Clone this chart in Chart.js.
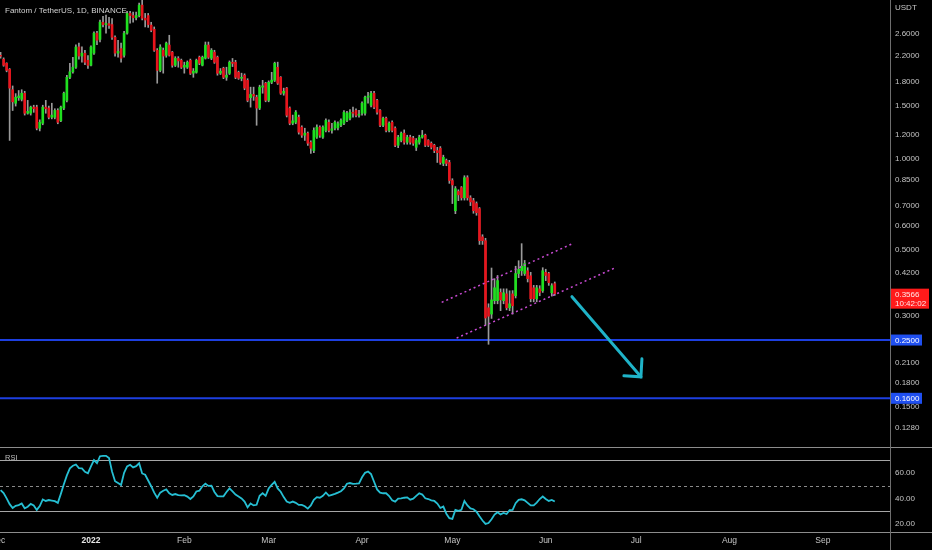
<!DOCTYPE html>
<html><head><meta charset="utf-8">
<script src="https://cdn.jsdelivr.net/npm/chart.js@4.4.1/dist/chart.umd.min.js"></script>
<style>
html,body{margin:0;padding:0;background:#000;overflow:hidden;}
#wrap{position:relative;width:932px;height:550px;background:#000;}
#price{position:absolute;left:0;top:0;}
#rsi{position:absolute;left:0;top:447px;}
</style></head><body>
<div id="wrap"><canvas id="price" width="932" height="447"></canvas><canvas id="rsi" width="932" height="103"></canvas></div>
<script>
// day index: 0 = 1 Dec 2021
const firstDay = 1;
const xMin = 0.8, xMax = 296.3;
const openP = [2.214,2.147,2.082,1.988,1.70,1.533,1.60,1.58,1.655,1.42,1.42,1.488,1.488,1.266,1.315,1.488,1.477,1.377,1.377,1.451,
1.34,1.477,1.567,1.87,1.95,2.02,2.36,2.20,2.248,2.13,2.05,2.25,2.622,2.50,2.85,2.80,2.82,2.80,2.54,2.25,
2.33,2.214,2.622,3.05,3.00,2.95,3.00,3.25,2.94,3.00,2.79,2.70,2.30,1.972,2.30,2.214,2.393,2.266,2.05,2.16,
2.13,2.02,2.02,2.13,1.93,1.943,2.18,2.05,2.164,2.393,2.164,2.266,2.18,1.93,2.004,1.87,1.928,2.098,2.098,1.943,
1.856,1.899,1.827,1.60,1.64,1.605,1.477,1.734,1.787,1.567,1.80,1.827,2.019,1.870,1.655,1.721,1.477,1.315,1.325,1.377,
1.276,1.20,1.219,1.137,1.067,1.182,1.276,1.182,1.245,1.325,1.245,1.266,1.27,1.295,1.315,1.344,1.367,1.431,1.451,1.398,
1.42,1.42,1.605,1.51,1.655,1.567,1.451,1.295,1.367,1.245,1.325,1.266,1.111,1.153,1.219,1.137,1.182,1.173,1.094,1.137,
1.182,1.20,1.153,1.128,1.111,1.067,1.086,0.967,0.989,0.974,0.848,0.673,0.78,0.803,0.743,0.867,0.743,0.727,0.711,0.684,
0.551,0.535,0.32,0.305,0.338,0.338,0.36,0.338,0.356,0.32,0.356,0.351,0.416,0.425,0.416,0.425,0.409,0.373,0.343,0.37,
0.3645,0.42,0.416,0.359,0.385];
const highP = [2.266,2.17,2.09,2.0,1.75,1.65,1.69,1.70,1.68,1.567,1.50,1.51,1.51,1.35,1.51,1.567,1.50,1.533,1.47,1.47,
1.50,1.67,1.90,2.08,2.18,2.40,2.43,2.36,2.30,2.21,2.38,2.65,2.66,2.90,2.98,3.01,2.96,2.93,2.57,2.48,
2.43,2.66,3.10,3.10,3.08,3.08,3.30,3.40,3.05,3.05,2.85,2.75,2.33,2.40,2.34,2.45,2.58,2.28,2.19,2.19,
2.15,2.10,2.12,2.15,2.00,2.15,2.20,2.20,2.45,2.45,2.33,2.30,2.20,2.00,2.02,2.02,2.12,2.16,2.13,1.96,
1.93,1.92,1.85,1.734,1.734,1.63,1.76,1.827,1.80,1.82,1.943,2.10,2.10,1.88,1.721,1.73,1.49,1.40,1.45,1.40,
1.29,1.266,1.23,1.15,1.27,1.30,1.29,1.29,1.36,1.35,1.315,1.34,1.33,1.36,1.45,1.44,1.46,1.488,1.47,1.451,
1.55,1.62,1.667,1.68,1.68,1.58,1.46,1.38,1.38,1.33,1.34,1.28,1.20,1.23,1.25,1.20,1.20,1.19,1.17,1.20,
1.245,1.21,1.16,1.14,1.12,1.094,1.10,1.03,1.00,0.99,0.86,0.81,0.79,0.81,0.88,0.88,0.755,0.74,0.72,0.69,
0.56,0.545,0.33,0.434,0.40,0.41,0.37,0.37,0.37,0.3645,0.365,0.44,0.459,0.523,0.46,0.435,0.42,0.38,0.38,0.379,
0.435,0.43,0.42,0.385,0.39];
const lowP = [2.164,2.035,1.95,1.153,1.45,1.50,1.567,1.56,1.40,1.41,1.40,1.43,1.25,1.24,1.30,1.42,1.36,1.36,1.36,1.31,
1.33,1.46,1.55,1.85,1.93,2.00,2.15,2.10,2.06,2.00,2.04,2.23,2.40,2.45,2.75,2.62,2.72,2.50,2.20,2.18,
2.10,2.18,2.60,2.83,2.85,2.90,2.97,2.90,2.75,2.74,2.65,2.28,1.787,1.95,1.93,2.18,2.20,2.02,2.03,2.02,
2.00,1.93,2.00,1.91,1.87,1.93,2.06,2.04,2.15,2.16,2.14,2.08,1.90,1.91,1.85,1.827,1.91,2.03,1.85,1.84,
1.82,1.70,1.55,1.488,1.567,1.295,1.46,1.655,1.55,1.55,1.78,1.81,1.77,1.64,1.63,1.38,1.30,1.30,1.31,1.21,
1.18,1.153,1.11,1.044,1.05,1.17,1.18,1.17,1.23,1.23,1.219,1.25,1.25,1.28,1.30,1.33,1.35,1.377,1.38,1.377,
1.40,1.40,1.533,1.49,1.47,1.41,1.28,1.28,1.23,1.23,1.23,1.10,1.09,1.14,1.12,1.12,1.12,1.11,1.067,1.12,
1.173,1.10,1.10,1.08,1.05,0.974,0.96,0.95,0.95,0.83,0.711,0.658,0.727,0.73,0.73,0.73,0.70,0.66,0.65,0.52,
0.52,0.28,0.242,0.295,0.33,0.33,0.313,0.33,0.315,0.313,0.305,0.345,0.403,0.41,0.41,0.39,0.335,0.335,0.335,0.351,
0.36,0.394,0.38,0.35,0.352];
const closeP = [2.197,2.05,1.972,1.721,1.55,1.605,1.62,1.655,1.42,1.44,1.488,1.47,1.266,1.325,1.488,1.47,1.377,1.40,1.451,1.325,
1.488,1.655,1.87,1.95,2.02,2.357,2.20,2.25,2.098,2.05,2.357,2.622,2.483,2.853,2.80,2.82,2.78,2.54,2.25,2.28,
2.164,2.622,3.05,3.00,2.95,3.00,3.25,2.94,2.90,2.80,2.68,2.30,1.972,2.357,2.20,2.429,2.214,2.05,2.164,2.12,
2.019,2.05,2.098,1.928,1.96,2.13,2.082,2.18,2.393,2.18,2.30,2.098,1.928,1.96,1.870,1.90,2.098,2.08,1.870,1.856,
1.87,1.721,1.567,1.64,1.62,1.477,1.734,1.75,1.567,1.80,1.83,2.082,1.787,1.655,1.68,1.398,1.315,1.34,1.431,1.228,
1.20,1.22,1.128,1.086,1.245,1.276,1.20,1.276,1.344,1.245,1.26,1.325,1.31,1.344,1.431,1.420,1.431,1.42,1.398,1.41,
1.533,1.605,1.62,1.655,1.488,1.431,1.295,1.367,1.245,1.315,1.245,1.111,1.182,1.219,1.137,1.182,1.137,1.128,1.153,1.182,
1.20,1.111,1.111,1.094,1.067,1.05,0.974,1.013,0.967,0.848,0.82,0.797,0.76,0.743,0.867,0.743,0.72,0.673,0.663,0.535,
0.535,0.296,0.30,0.34,0.373,0.394,0.34,0.359,0.320,0.33,0.325,0.416,0.43,0.44,0.449,0.400,0.343,0.343,0.373,0.36,
0.425,0.41,0.388,0.379,0.3566];
const rsiValues = [46.5,44.2,40,35.5,32.5,34.2,34.8,36,32.3,33.5,35.7,34.5,31,34,39.2,38,38.7,38.3,37.8,36.5,
43.5,51,58,63.5,65.5,66.5,63.7,63.5,60.8,59.7,65,70,67.5,73,73.3,73.3,71.5,61,53.4,52,
50.5,60,65,66.3,64.2,65.2,67.5,59.5,58.5,54,49.5,44.5,40.5,44.5,46,47,44,42.7,43.4,42.5,
42.3,42.5,41.4,39.5,41.5,45.4,46,49.5,51.5,49.8,50,45,41.8,41.6,41.6,45,47.8,45.5,43,41.5,
40,37.5,33,36,34.5,35,42,44,42,47.7,50.5,53,47.8,45.2,41,37.5,36.5,37.5,36.5,34.9,
34.9,33.8,32,34.5,38.8,41,40.5,42,44.6,42,42.8,43.5,44.5,45.6,47.8,51.5,52,51.4,51.5,51.8,
56.5,60,61,59,53,47,44.5,44,44,41.8,38.5,37.5,39.8,40,40.5,40.8,39,39.8,42,44,
43,40.1,39.5,38.5,38,36,32.5,33.6,28,24.5,24,31,30.3,31,38,34.5,32.2,31.5,29.6,26,
22.7,20,20.7,23.7,27.3,29.2,27.5,28.6,27.8,30.8,31,36.2,38.8,39.3,38.5,36.5,34.5,34.5,36.7,39.5,
41.5,39.5,38,38.8,37.5];
const monthTicks = [0,31,62,90,121,151,182,212,243,274];
const monthLabels = ['Dec','2022','Feb','Mar','Apr','May','Jun','Jul','Aug','Sep'];
const priceTicks = [2.6,2.2,1.8,1.5,1.2,1.0,0.85,0.7,0.6,0.5,0.42,0.3,0.21,0.18,0.15,0.128];
const rsiTicks = [20,40,60];
const rsiLevels = [70,50,30];
const supportLevels = [0.25,0.16];
const channelUpperX = [147.45,191.0], channelUpperY = [0.3336,0.5236];
const channelLowerX = [152.4,205.0], channelLowerY = [0.2538,0.4344];
const arrowX = [190.7,213.6], arrowY = [0.3485,0.1886];
const titleText = 'Fantom / TetherUS, 1D, BINANCE';
const currencyText = 'USDT';
const countdownText = '10:42:02';

const FONT = '"Liberation Sans", Arial, sans-serif';
const UP = '#1fe01f', DOWN = '#e8141c', WICK = '#9a9a9a';

const days = openP.map((_, i) => firstDay + i);
const bodyData = days.map((d, i) => ({x: d, y: [openP[i], closeP[i]]}));
const wickData = days.map((d, i) => ({x: d, y: [lowP[i], highP[i]]}));
const bodyColors = days.map((_, i) => closeP[i] >= openP[i] ? UP : DOWN);
const pts = (xs, ys) => xs.map((x, i) => ({x, y: ys[i]}));

const noPad = s => { s.paddingLeft = 0; s.paddingRight = 0; s.paddingTop = 0; s.paddingBottom = 0; };

const pricePlugin = {
  id: 'pricePlugin',
  beforeDraw(chart) {
    const c = chart.ctx; c.save(); c.fillStyle = '#000'; c.fillRect(0, 0, chart.width, chart.height); c.restore();
  },
  afterDraw(chart) {
    const c = chart.ctx, y = chart.scales.y, a = chart.chartArea;
    c.save();
    c.fillStyle = '#d2d2d2'; c.font = '8px ' + FONT; c.textBaseline = 'middle'; c.textAlign = 'left';
    c.fillText(titleText, 5, 11);
    c.fillStyle = '#c8c8c8'; c.font = '8px ' + FONT;
    c.fillText(currencyText, a.right + 5, 8);
    const meta = chart.getDatasetMeta(chart.data.datasets.findIndex(d => d.label === 'arrow'));
    const tip = meta.data[meta.data.length - 1];
    c.strokeStyle = '#1fb3c8'; c.lineWidth = 3; c.lineCap = 'round';
    c.beginPath(); c.moveTo(tip.x + 1, tip.y - 18); c.lineTo(tip.x, tip.y); c.lineTo(tip.x - 17, tip.y - 1); c.stroke();
    c.font = '8px ' + FONT;
    supportLevels.forEach(v => {
      const py = y.getPixelForValue(v);
      c.fillStyle = '#1f4ff0'; c.fillRect(a.right + 1, py - 5.5, 31, 11);
      c.fillStyle = '#ffffff'; c.fillText(v.toFixed(4), a.right + 5, py + 0.5);
    });
    const last = closeP[closeP.length - 1];
    const py = y.getPixelForValue(last);
    c.fillStyle = '#ff1a1a'; c.fillRect(a.right + 1, py - 5, 38, 20);
    c.fillStyle = '#ffe8e8';
    c.fillText(last.toFixed(4), a.right + 5, py + 1);
    c.fillText(countdownText, a.right + 5, py + 10);
    c.restore();
  }
};

new Chart(document.getElementById('price'), {
  type: 'bar',
  data: {
    datasets: [
      {type: 'line', label: 'arrow', data: pts(arrowX, arrowY), borderColor: '#1fb3c8', borderWidth: 3, pointRadius: 0, borderCapStyle: 'round', order: 0},
      {type: 'line', label: 'upper', data: pts(channelUpperX, channelUpperY), borderColor: '#c84ad2', borderWidth: 1.5, borderDash: [2, 3], pointRadius: 0, order: 0},
      {type: 'line', label: 'lower', data: pts(channelLowerX, channelLowerY), borderColor: '#c84ad2', borderWidth: 1.5, borderDash: [2, 3], pointRadius: 0, order: 0},
      {label: 'body', data: bodyData, backgroundColor: bodyColors, barThickness: 2, minBarLength: 1, grouped: false, order: 1},
      {label: 'wick', data: wickData, backgroundColor: WICK, barThickness: 1, grouped: false, order: 2},
      ...supportLevels.map(v => ({type: 'line', label: 'sup', data: [{x: xMin, y: v}, {x: xMax, y: v}], borderColor: '#1d3fe0', borderWidth: 2, pointRadius: 0, order: 3}))
    ]
  },
  options: {
    responsive: false, animation: false,
    layout: {padding: 0},
    plugins: {legend: {display: false}, tooltip: {enabled: false}},
    scales: {
      x: {type: 'linear', min: xMin, max: xMax, offset: false, display: false},
      y: {
        type: 'logarithmic', position: 'right', min: 0.1102, max: 3.38,
        grid: {display: false, drawTicks: false},
        border: {display: true, color: '#6e6e6e', width: 1},
        afterBuildTicks: s => { s.ticks = priceTicks.map(v => ({value: v})); },
        afterFit: s => { s.width = 42; noPad(s); },
        ticks: {autoSkip: false, padding: 5, color: '#c4c4c4', font: {family: FONT, size: 8}, callback: v => Number(v).toFixed(4)}
      }
    }
  },
  plugins: [pricePlugin]
});

const rsiPlugin = {
  id: 'rsiPlugin',
  beforeDraw(chart) {
    const c = chart.ctx; c.save(); c.fillStyle = '#000'; c.fillRect(0, 0, chart.width, chart.height); c.restore();
  },
  beforeDatasetsDraw(chart) {
    const c = chart.ctx, a = chart.chartArea, y = chart.scales.y;
    c.save();
    c.lineWidth = 1;
    rsiLevels.forEach(v => {
      const py = Math.round(y.getPixelForValue(v)) + 0.5;
      c.strokeStyle = v === 50 ? '#8a8a8a' : '#a6a6a6';
      c.setLineDash(v === 50 ? [3, 3] : []);
      c.beginPath(); c.moveTo(a.left, py); c.lineTo(a.right, py); c.stroke();
    });
    c.setLineDash([]);
    c.strokeStyle = '#8c8c8c';
    c.beginPath(); c.moveTo(0, 0.5); c.lineTo(chart.width, 0.5); c.stroke();
    c.beginPath(); c.moveTo(0, a.bottom + 0.5); c.lineTo(chart.width, a.bottom + 0.5); c.stroke();
    c.strokeStyle = '#6e6e6e';
    c.beginPath(); c.moveTo(a.right + 0.5, 0); c.lineTo(a.right + 0.5, chart.height); c.stroke();
    c.fillStyle = '#bdbdbd'; c.font = '7.5px ' + FONT; c.textBaseline = 'middle';
    c.fillText('RSI', 5, 11);
    c.restore();
  }
};

new Chart(document.getElementById('rsi'), {
  type: 'line',
  data: {datasets: [{label: 'RSI', data: days.map((d, i) => ({x: d, y: rsiValues[i]})), borderColor: '#26bfd3', borderWidth: 1.8, pointRadius: 0, tension: 0}]},
  options: {
    responsive: false, animation: false,
    layout: {padding: 0},
    plugins: {legend: {display: false}, tooltip: {enabled: false}},
    scales: {
      x: {
        type: 'linear', min: xMin, max: xMax, offset: false,
        grid: {display: false, drawTicks: false}, border: {display: false},
        afterBuildTicks: s => { s.ticks = monthTicks.map(v => ({value: v})); },
        afterFit: s => { s.height = 18; noPad(s); },
        ticks: {
          autoSkip: false, maxRotation: 0, minRotation: 0, padding: 4,
          color: ctx => (ctx.tick && ctx.tick.value === 31) ? '#e6e6e6' : '#c4c4c4',
          font: ctx => ({family: FONT, size: 8.5, weight: (ctx.tick && ctx.tick.value === 31) ? 'bold' : 'normal'}),
          callback: v => monthLabels[monthTicks.indexOf(v)]
        }
      },
      y: {
        type: 'linear', position: 'right', min: 13.7, max: 80.2,
        grid: {display: false, drawTicks: false}, border: {display: false},
        afterBuildTicks: s => { s.ticks = rsiTicks.map(v => ({value: v})); },
        afterFit: s => { s.width = 42; noPad(s); },
        ticks: {autoSkip: false, padding: 5, color: '#c4c4c4', font: {family: FONT, size: 8}, callback: v => Number(v).toFixed(2)}
      }
    }
  },
  plugins: [rsiPlugin]
});
</script>
</body></html>
